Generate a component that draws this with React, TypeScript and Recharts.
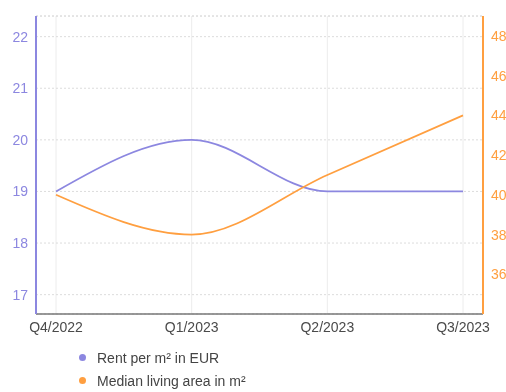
import {
  LineChart,
  Line,
  XAxis,
  YAxis,
  CartesianGrid,
  Legend,
  ReferenceLine,
} from "recharts";

const quarters = ["Q4/2022", "Q1/2023", "Q2/2023", "Q3/2023"];
const rentPerSqm = [19, 20, 19, 19];
const medianArea = [40, 38, 41, 44];
const rentTicks = [17, 18, 19, 20, 21, 22];
const areaTicks = [36, 38, 40, 42, 44, 46, 48];

const data = quarters.map((q, i) => ({
  quarter: q,
  rent: rentPerSqm[i],
  area: medianArea[i],
}));

const PURPLE = "#8c87e0";
const ORANGE = "#ff9f40";

const legendItems = [
  { label: "Rent per m² in EUR", color: PURPLE },
  { label: "Median living area in m²", color: ORANGE },
];

const renderLegend = () => (
  <div style={{ height: 48, paddingTop: 2, paddingLeft: 79, boxSizing: "border-box" }}>
    {legendItems.map((item) => (
      <div
        key={item.label}
        style={{ height: 23, display: "flex", alignItems: "center", fontSize: 14, color: "#444" }}
      >
        <span
          style={{
            display: "inline-block",
            width: 7,
            height: 7,
            borderRadius: "50%",
            background: item.color,
            marginRight: 11,
          }}
        />
        {item.label}
      </div>
    ))}
  </div>
);

export default function App() {
  return (
    <div
      style={{
        position: "fixed",
        top: 0,
        left: 0,
        width: 506,
        height: 392,
        overflow: "hidden",
        fontFamily: "'Liberation Sans', Arial, sans-serif",
      }}
    >
      <LineChart width={530} height={392} data={data} margin={{ top: 16, right: 0, bottom: 0, left: 0 }}>
        <CartesianGrid horizontal={false} stroke="#ececec" />
        <CartesianGrid vertical={false} stroke="#dcdcdc" strokeDasharray="2 2" yAxisId="left" />
        <XAxis
          dataKey="quarter"
          padding={{ left: 20, right: 20 }}
          tickLine={false}
          axisLine={{ stroke: "#777", strokeWidth: 1.5 }}
          tick={{ fill: "#4a4a4a", fontSize: 14 }}
          height={30}
        />
        <YAxis
          yAxisId="left"
          domain={[16.625, 22.4]}
          ticks={rentTicks}
          width={36}
          tickLine={false}
          axisLine={{ stroke: PURPLE, strokeWidth: 2 }}
          tick={{ fill: PURPLE, fontSize: 14 }}
        />
        <YAxis
          yAxisId="right"
          orientation="right"
          domain={[34, 49]}
          ticks={areaTicks}
          width={47}
          tickLine={false}
          axisLine={{ stroke: ORANGE, strokeWidth: 2 }}
          tick={{ fill: ORANGE, fontSize: 14 }}
        />
        <ReferenceLine yAxisId="left" y={22.4} stroke="#dcdcdc" strokeDasharray="2 2" />
        <Legend verticalAlign="bottom" content={renderLegend} />
        <Line
          yAxisId="left"
          type="monotone"
          dataKey="rent"
          stroke={PURPLE}
          strokeWidth={1.75}
          dot={false}
          isAnimationActive={false}
        />
        <Line
          yAxisId="right"
          type="monotone"
          dataKey="area"
          stroke={ORANGE}
          strokeWidth={1.75}
          dot={false}
          isAnimationActive={false}
        />
      </LineChart>
    </div>
  );
}
